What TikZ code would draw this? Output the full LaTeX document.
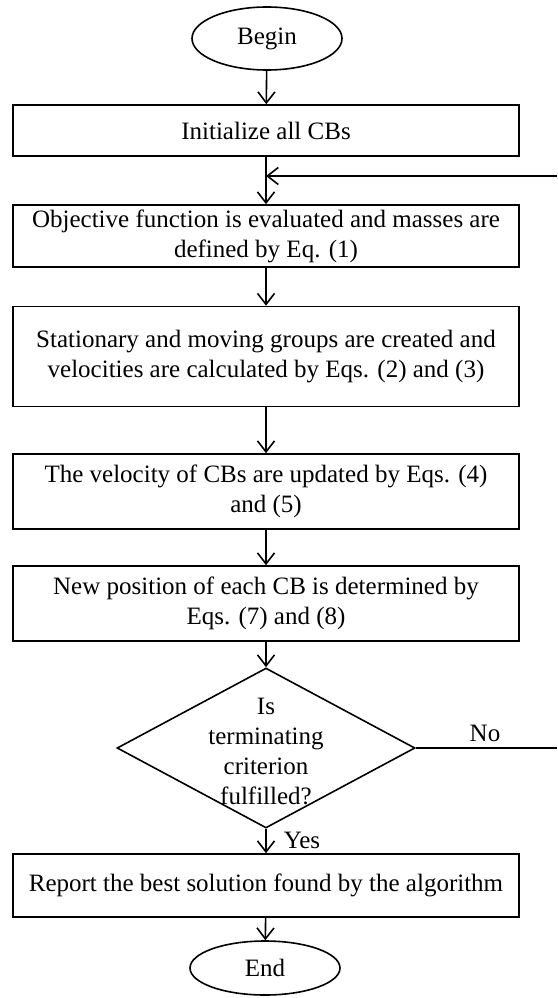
\documentclass[tikz,border=0pt]{standalone}
\usepackage{fontspec}
\setmainfont{Liberation Serif}
\usetikzlibrary{shapes.geometric,arrows.meta}
\begin{document}
\begin{tikzpicture}[x=1pt,y=-1pt,
  txt/.style={font=\fontsize{25}{30}\selectfont, align=center},
  term/.style={draw, line width=1.6pt, ellipse, inner sep=0pt, txt},
  procbox/.style={draw, line width=1.6pt, rectangle, inner sep=0pt, minimum width=506pt, txt},
  arr/.style={line width=1.6pt, -{Straight Barb[length=11pt,width=17pt,line width=1.6pt]}},
  plain/.style={line width=1.6pt}]
\useasboundingbox (0,0) rectangle (557,998);
\node[term, minimum width=150pt, minimum height=63pt] (begin) at (267,38.5) {Begin};
\node[procbox, minimum height=51pt] (init) at (266,130.5) {Initialize all CBs};
\node[procbox, minimum height=62pt] (obj) at (266,236) {Objective function is evaluated and masses are\\ defined by Eq. (1)};
\node[procbox, minimum height=100pt] (stat) at (266,356.5) {Stationary and moving groups are created and\\ velocities are calculated by Eqs. (2) and (3)};
\node[procbox, minimum height=75pt] (vel) at (266,491.5) {The velocity of CBs are updated by Eqs. (4)\\ and (5)};
\node[procbox, minimum height=75pt] (pos) at (266,603.5) {New position of each CB is determined by\\ Eqs. (7) and (8)};
\node[draw, line width=1.6pt, diamond, minimum width=298pt, minimum height=160pt, inner sep=0pt] (dec) at (266,748) {};
\node[txt] (dectext) at (266,751) {Is\\ terminating\\ criterion\\ fulfilled?};
\node[procbox, minimum height=63pt] (report) at (266,885.5) {Report the best solution found by the algorithm};
\node[term, minimum width=150pt, minimum height=54pt] (end) at (265,968) {End};
\coordinate (loopJ) at (266,176);
\coordinate (loopR) at (557,176);
\coordinate (noR) at (557,748);
\draw[arr] (begin) -- (init);
\draw[arr] (init) -- (obj);
\draw[arr] (loopR) -- (loopJ);
\draw[arr] (obj) -- (stat);
\draw[arr] (stat) -- (vel);
\draw[arr] (vel) -- (pos);
\draw[arr] (pos) -- (dec);
\draw[arr] (dec) -- (report);
\draw[arr] (report) -- (end);
\draw[plain] (dec.east) -- (noR);
\node[txt] (nolabel) at (485,733) {No};
\node[txt] (yeslabel) at (302,840) {Yes};
\end{tikzpicture}
\end{document}
